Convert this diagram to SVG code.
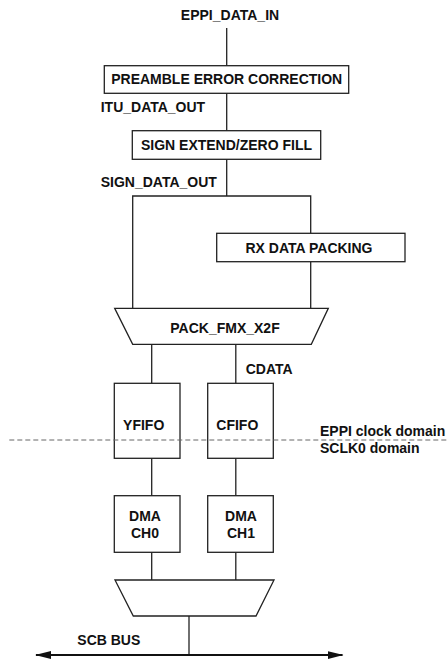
<svg xmlns="http://www.w3.org/2000/svg" width="448" height="661" viewBox="0 0 448 661">
<style>
text{font-family:"Liberation Sans",Arial,sans-serif;font-weight:bold;font-size:14px;fill:#111}
.c{text-anchor:middle}
.b{fill:#fff;stroke:#222;stroke-width:1.3}
.w{fill:none;stroke:#222;stroke-width:1.3}
</style>
<defs>
<marker id="ah" viewBox="0 0 16 8" refX="15" refY="4" markerWidth="16" markerHeight="8" markerUnits="userSpaceOnUse" orient="auto-start-reverse">
<path d="M0,0 L16,4 L0,8 Z" fill="#111"/>
</marker>
</defs>
<g id="connectors">
<path class="w" d="M226.7,28 V65.7"/>
<path class="w" d="M226.7,93.3 V130.7"/>
<path class="w" d="M226.7,159.3 V196"/>
<path class="w" d="M132.7,308.3 V196 H310.7 V233.3"/>
<path class="w" d="M310.7,261.7 V308.3"/>
<path class="w" d="M151.7,344.3 V383.3"/>
<path class="w" d="M235.8,344.3 V383.3"/>
<path class="w" d="M151.7,458.3 V495.7"/>
<path class="w" d="M235.8,458.3 V495.7"/>
<path class="w" d="M151.7,552.3 V580"/>
<path class="w" d="M235.8,552.3 V580"/>
<path class="w" d="M189,616 V655"/>
<path d="M36,655 H342.5" fill="none" stroke="#111" stroke-width="2" marker-start="url(#ah)" marker-end="url(#ah)"/>
</g>
<text class="c" x="230" y="20">EPPI_DATA_IN</text>
<text x="100.7" y="112">ITU_DATA_OUT</text>
<text x="100.7" y="187">SIGN_DATA_OUT</text>
<text x="245.7" y="374">CDATA</text>
<text x="320" y="435.7">EPPI clock domain</text>
<text x="320" y="452.7">SCLK0 domain</text>
<text x="77.3" y="645">SCB BUS</text>
<g id="preamble">
<rect class="b" x="104.3" y="65.7" width="244.4" height="27.6"/>
<text class="c" x="226.7" y="84">PREAMBLE ERROR CORRECTION</text>
</g>
<g id="signext">
<rect class="b" x="132.3" y="130.7" width="188.4" height="28.6"/>
<text class="c" x="226.5" y="150">SIGN EXTEND/ZERO FILL</text>
</g>
<g id="rxpack">
<rect class="b" x="216.7" y="233.3" width="188.3" height="28.4"/>
<text class="c" x="309" y="252.7">RX DATA PACKING</text>
</g>
<g id="packfmx">
<path class="b" d="M114.7,308.3 H328.3 L311.3,344.3 H132.7 Z"/>
<text class="c" x="225" y="332.7">PACK_FMX_X2F</text>
</g>
<g id="yfifo">
<rect class="b" x="114.3" y="383.3" width="65.7" height="75"/>
<text class="c" x="143.7" y="430">YFIFO</text>
</g>
<g id="cfifo">
<rect class="b" x="207.7" y="383.3" width="65.6" height="75"/>
<text class="c" x="237.3" y="430">CFIFO</text>
</g>
<g id="dma0">
<rect class="b" x="114.3" y="495.7" width="65.7" height="56.6"/>
<text class="c" x="145" y="520.7">DMA</text>
<text class="c" x="145" y="538.3">CH0</text>
</g>
<g id="dma1">
<rect class="b" x="207.7" y="495.7" width="65.6" height="56.6"/>
<text class="c" x="241" y="520.7">DMA</text>
<text class="c" x="241" y="538.3">CH1</text>
</g>
<g id="mux">
<path class="b" d="M115,580 H274 L256,616 H133.3 Z"/>
</g>
<g id="domain-boundary">
<path d="M9.3,440 H448" fill="none" stroke="#666" stroke-width="1" stroke-dasharray="5,3"/>
</g>
</svg>
